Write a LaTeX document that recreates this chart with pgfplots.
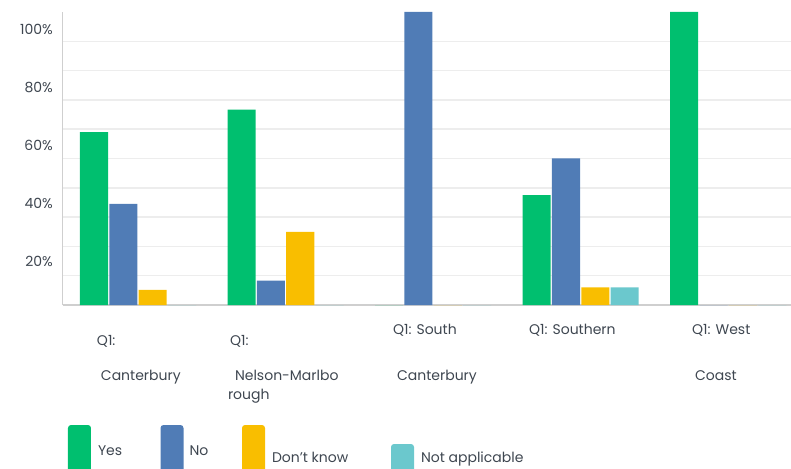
\documentclass[border=0pt]{standalone}
\usepackage{pgfplots}
\pgfplotsset{compat=1.18}
\usepackage{fontspec}
\setmainfont{Poppins}
\definecolor{cyes}{HTML}{00BF6F}
\definecolor{cno}{HTML}{507CB6}
\definecolor{cdk}{HTML}{F9BE00}
\definecolor{cna}{HTML}{6BC8CD}
\definecolor{txt}{HTML}{3E4650}
\definecolor{gridc}{HTML}{EDEDED}
\definecolor{axc}{HTML}{CFCFCF}
\begin{document}
\begin{tikzpicture}
\begin{axis}[
  at={(0,0)}, anchor=south west,
  scale only axis, width=728pt, height=293pt,
  xmin=-0.5, xmax=4.434, ymin=0, ymax=100,
  clip=false,
  bar width=0.19,
  xtick=\empty,
  ytick={15,34.8,54.6,74.4,94.2},
  yticklabels={20\%,40\%,60\%,80\%,100\%},
  minor ytick={10,20,...,90},
  yminorgrids, minor grid style={gridc, line width=1.5pt},
  major tick length=0pt, minor tick length=0pt,
  axis x line*=bottom, axis y line*=left,
  x axis line style={axc, line width=1.3pt, -},
  y axis line style={axc, line width=1pt, -},
  tick label style={font=\fontsize{14}{16}\selectfont, text=txt},
  yticklabel style={inner sep=0pt, xshift=-10pt},
  legend columns=4,
  legend style={draw=none, fill=none, inner sep=0pt, outer sep=0pt,
    at={(rel axis cs:0,0)}, anchor=north west, xshift=5pt, yshift=-120pt,
    font=\fontsize{14}{16}\selectfont, text=txt,
    cells={anchor=base west, inner sep=0pt},
    /tikz/every even column/.style={column sep=0pt},
    /tikz/every odd column/.style={column sep=0pt}},
]
\addplot[ybar, bar shift=-0.29, fill=cyes, draw=none,
  legend image code/.code={\fill[cyes, rounded corners=3pt] (0pt,-20pt) rectangle (23pt,30.7pt); \path (28pt,0pt);}]
  coordinates {(0,59) (1,66.7) (2,0) (3,37.5) (4,100)};
\addlegendentry{\makebox[60.5pt][l]{Yes}}
\addplot[ybar, bar shift=-0.091, fill=cno, draw=none,
  legend image code/.code={\fill[cno, rounded corners=3pt] (0pt,-20pt) rectangle (23pt,30.7pt); \path (27pt,0pt);}]
  coordinates {(0,34.5) (1,8.3) (2,100) (3,50) (4,0)};
\addlegendentry{\makebox[50.5pt][l]{No}}
\addplot[ybar, bar shift=0.108, fill=cdk, draw=none,
  legend image code/.code={\fill[cdk, rounded corners=3pt] (0pt,-20pt) rectangle (23pt,30.7pt); \path (28pt,0pt);}]
  coordinates {(0,5.2) (1,25) (2,0) (3,6) (4,0)};
\addlegendentry{\makebox[117pt][l]{\raisebox{-7pt}{Don't know}}}
\addplot[ybar, bar shift=0.307, fill=cna, draw=none,
  legend image code/.code={\fill[cna, rounded corners=3pt] (0pt,-20pt) rectangle (23pt,11.7pt); \path (28pt,0pt);}]
  coordinates {(0,0) (1,0) (2,0) (3,6) (4,0)};
\addlegendentry{\raisebox{-7pt}{Not applicable}}

\begin{scope}[every node/.style={anchor=base west, inner sep=0pt, text=txt, font=\fontsize{14}{16}\selectfont}]
\node at (axis cs:0,0) [xshift=-40pt, yshift=-40.5pt] {Q1:};
\node at (axis cs:0,0) [xshift=-36pt, yshift=-75pt] {Canterbury};
\node at (axis cs:1,0) [xshift=-54.5pt, yshift=-40.5pt] {Q1:};
\node at (axis cs:1,0) [xshift=-49.5pt, yshift=-75pt] {Nelson-Marlbo};
\node at (axis cs:1,0) [xshift=-56.5pt, yshift=-94pt] {rough};
\node at (axis cs:2,0) [xshift=-39pt, yshift=-29pt] {Q1: South};
\node at (axis cs:2,0) [xshift=-35pt, yshift=-75pt] {Canterbury};
\node at (axis cs:3,0) [xshift=-50.5pt, yshift=-29pt] {Q1: Southern};
\node at (axis cs:4,0) [xshift=-35pt, yshift=-29pt] {Q1: West};
\node at (axis cs:4,0) [xshift=-32pt, yshift=-75pt] {Coast};
\end{scope}
\end{axis}
\pgfresetboundingbox
\path[use as bounding box] (-63pt,-163pt) rectangle (728pt,305pt);
\end{tikzpicture}
\end{document}
